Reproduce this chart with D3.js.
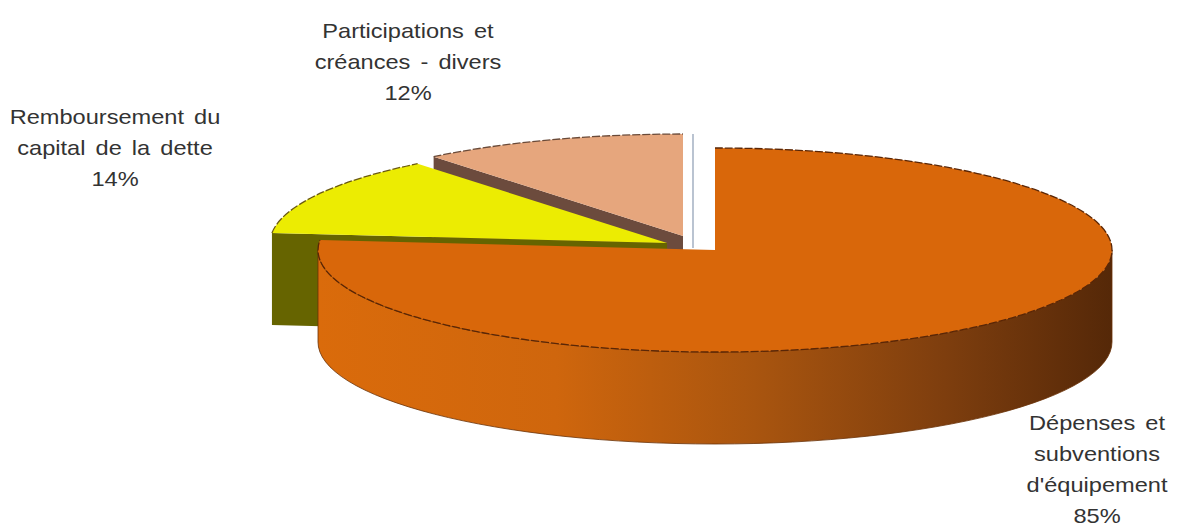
<!DOCTYPE html>
<html>
<head>
<meta charset="utf-8">
<script src="https://cdn.jsdelivr.net/npm/d3@7"></script>
<style>
  html, body { margin: 0; padding: 0; background: #ffffff; }
  svg { display: block; }
</style>
</head>
<body>
<svg id="chart" width="1184" height="527"></svg>
<script>
// Slice data (clockwise from 12 o'clock)
const categories = [
  "Dépenses et subventions d'équipement",
  "Remboursement du capital de la dette",
  "Participations et créances - divers"
];
const values = [85, 14, 12];
const labelLines = [
  ["Dépenses et", "subventions", "d'équipement"],
  ["Remboursement du", "capital de la dette"],
  ["Participations et", "créances - divers"]
];

// Styling per slice
const topColors = ["#d9670a", "#ecec02", "#e6a67d"];
const cutColors = ["#8a4208", "#666400", "#6c4b3d"];
const rimColors = ["#5a2606", "#6b5a10", "#6a4a38"];

// Pie geometry (flattened 3D disc)
const W = 1184, H = 527;
const base = { x: 683, y: 236 };
const rx = 397, ry = 102, depth = 92;
// per-slice shift of the slice centre (exploded look)
const shifts = [[32, 14], [-16, 7], [0, 0]];
// label anchors (centre x, first baseline y)
const labelPos = [[1097, 430], [115, 124], [408, 38]];
const lineGap = 31;

const svg = d3.select("#chart");

const pie = d3.pie().sort(null).startAngle(0).endAngle(2 * Math.PI);
const arcs = pie(values).map((d, i) => ({
  ...d, i,
  c: { x: base.x + shifts[i][0], y: base.y + shifts[i][1] }
}));

const ex = d3.scaleLinear().domain([-1, 1]).range([-rx, rx]);
const ey = d3.scaleLinear().domain([-1, 1]).range([-ry, ry]);
function pt(c, a, dz = 0) {
  return [c.x + ex(Math.sin(a)), c.y - ey(Math.cos(a)) + dz];
}

// gradient for the front wall of the large slice
const defs = svg.append("defs");
const grad = defs.append("linearGradient")
  .attr("id", "wall0").attr("gradientUnits", "userSpaceOnUse")
  .attr("x1", arcs[0].c.x - rx).attr("x2", arcs[0].c.x + rx)
  .attr("y1", 0).attr("y2", 0);
[[0, "#da6b0b"], [0.3, "#cf660d"], [0.55, "#a9550f"], [0.8, "#7c3d0e"], [1, "#552808"]]
  .forEach(([o, col]) => grad.append("stop").attr("offset", o).attr("stop-color", col));

const g = svg.append("g");

function topPath(d) {
  const p0 = pt(d.c, d.startAngle), p1 = pt(d.c, d.endAngle);
  const large = d.endAngle - d.startAngle > Math.PI ? 1 : 0;
  return `M${d.c.x},${d.c.y}L${p0}A${rx},${ry} 0 ${large} 1 ${p1}Z`;
}
function rimPath(d) {
  const p0 = pt(d.c, d.startAngle), p1 = pt(d.c, d.endAngle);
  const large = d.endAngle - d.startAngle > Math.PI ? 1 : 0;
  return `M${p0}A${rx},${ry} 0 ${large} 1 ${p1}`;
}
function cutPath(d, a) {
  const p = pt(d.c, a);
  return `M${d.c.x},${d.c.y}L${p}L${p[0]},${p[1] + depth}L${d.c.x},${d.c.y + depth}Z`;
}
function wallPath(d) {
  const b0 = Math.max(d.startAngle, Math.PI / 2);
  const b1 = Math.min(d.endAngle, 3 * Math.PI / 2);
  if (b1 <= b0) return null;
  const p0 = pt(d.c, b0), p1 = pt(d.c, b1);
  const q0 = pt(d.c, b0, depth), q1 = pt(d.c, b1, depth);
  const large = b1 - b0 > Math.PI ? 1 : 0;
  return `M${p0}A${rx},${ry} 0 ${large} 1 ${p1}L${q1}A${rx},${ry} 0 ${large} 0 ${q0}Z`;
}

// paint back-to-front: small slices first, large slice last
const order = [2, 1, 0];
order.forEach(k => {
  const d = arcs[k];
  const sg = g.append("g").attr("class", "slice");
  // radial cut faces that face the viewer
  if (Math.sin(d.startAngle) < -1e-6) {
    sg.append("path").attr("d", cutPath(d, d.startAngle)).attr("fill", cutColors[k]);
  }
  if (Math.sin(d.endAngle) > 1e-6) {
    sg.append("path").attr("d", cutPath(d, d.endAngle)).attr("fill", cutColors[k]);
  }
  const wp = wallPath(d);
  if (wp) {
    sg.append("path").attr("d", wp)
      .attr("fill", k === 0 ? "url(#wall0)" : cutColors[k])
      .attr("stroke", "#6a3106").attr("stroke-width", 0.8);
  }
  sg.append("path").attr("d", topPath(d)).attr("fill", topColors[k]);
  sg.append("path").attr("d", rimPath(d))
    .attr("fill", "none").attr("stroke", rimColors[k])
    .attr("stroke-width", 1.3).attr("stroke-dasharray", "8,2");
  if (k === 2) {
    // thin edge of the 12 o'clock face
    const pe = pt(d.c, d.endAngle);
    g.append("line")
      .attr("x1", pe[0] + 10).attr("x2", pe[0] + 10)
      .attr("y1", pe[1]).attr("y2", d.c.y + 12)
      .attr("stroke", "#a9b5c6").attr("stroke-width", 1.6);
  }
});

// labels: category name over several lines, then the percentage
const lg = svg.append("g")
  .attr("font-family", "'Liberation Sans', Arial, sans-serif")
  .attr("font-size", 20).attr("fill", "#333333");
arcs.forEach((d, k) => {
  const lines = labelLines[k].concat([`${values[k]}%`]);
  lines.forEach((t, j) => {
    lg.append("text")
      .attr("transform", `translate(${labelPos[k][0]},${labelPos[k][1] + j * lineGap}) scale(1.18,1)`)
      .attr("text-anchor", "middle")
      .attr("word-spacing", 3)
      .text(t);
  });
});
</script>
</body>
</html>
